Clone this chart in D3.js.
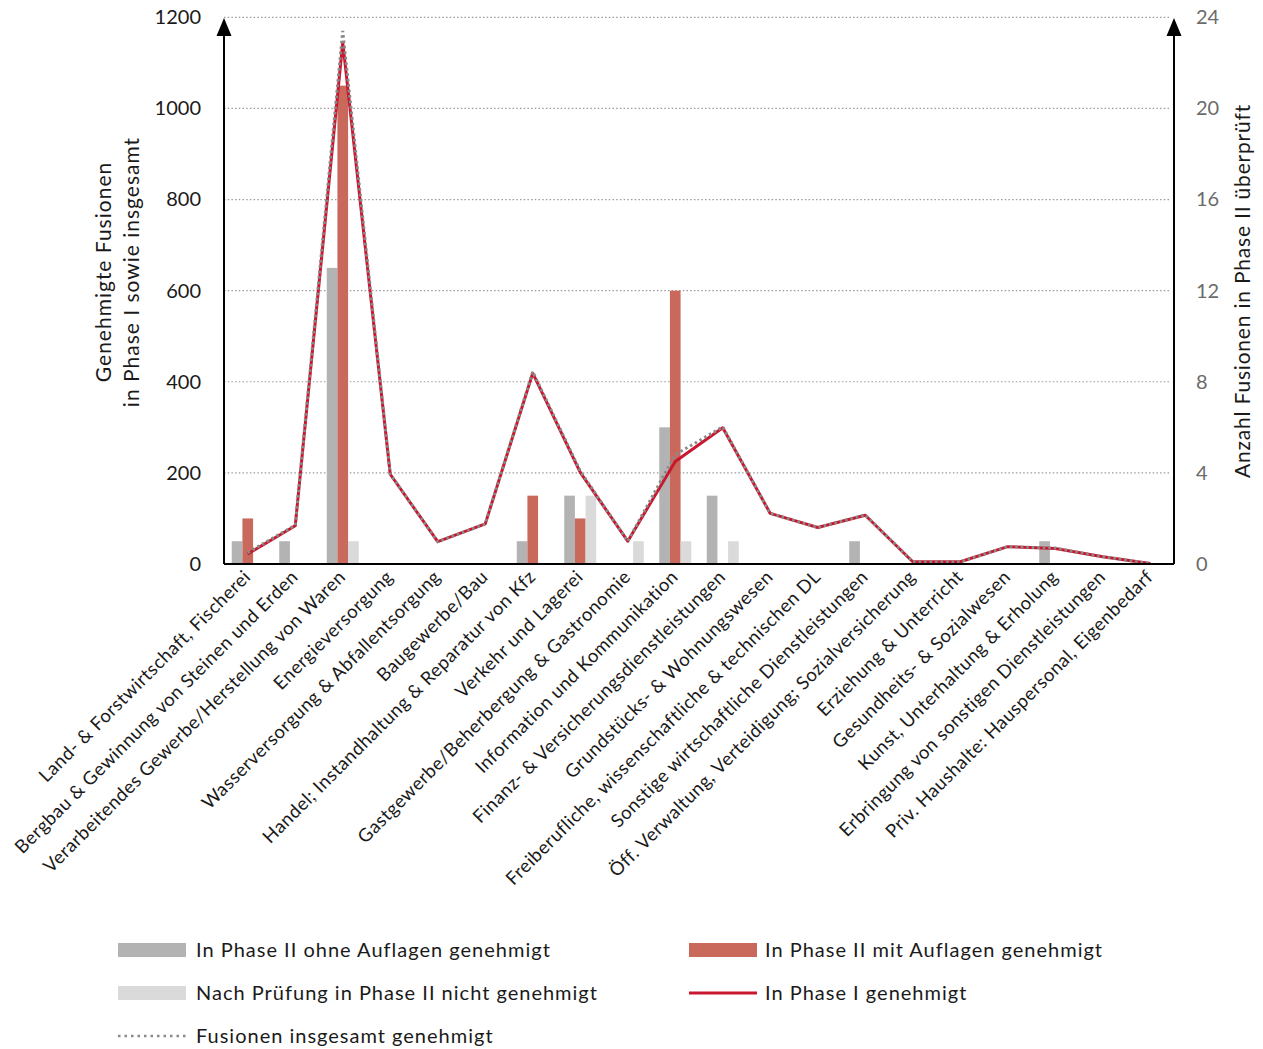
<!DOCTYPE html>
<html><head><meta charset="utf-8">
<script src="https://cdn.jsdelivr.net/npm/d3@7"></script>
<style>
html,body{margin:0;padding:0;background:#fff;}
svg{display:block;font-family:Lato,"Open Sans",sans-serif;}
</style></head>
<body>
<svg id="chart" width="1263" height="1049"></svg>
<script>
const categories = [
  "Land- & Forstwirtschaft, Fischerei",
  "Bergbau & Gewinnung von Steinen und Erden",
  "Verarbeitendes Gewerbe/Herstellung von Waren",
  "Energieversorgung",
  "Wasserversorgung & Abfallentsorgung",
  "Baugewerbe/Bau",
  "Handel; Instandhaltung & Reparatur von Kfz",
  "Verkehr und Lagerei",
  "Gastgewerbe/Beherbergung & Gastronomie",
  "Information und Kommunikation",
  "Finanz- & Versicherungsdienstleistungen",
  "Grundstücks- & Wohnungswesen",
  "Freiberufliche, wissenschaftliche & technischen DL",
  "Sonstige wirtschaftliche Dienstleistungen",
  "Öff. Verwaltung, Verteidigung; Sozialversicherung",
  "Erziehung & Unterricht",
  "Gesundheits- & Sozialwesen",
  "Kunst, Unterhaltung & Erholung",
  "Erbringung von sonstigen Dienstleistungen",
  "Priv. Haushalte: Hauspersonal, Eigenbedarf"
];
// Phase II (right axis)
const phase2Ohne   = [1,1,13,0,0,0,1,3,0,6,3,0,0,1,0,0,0,1,0,0];
const phase2Mit    = [2,0,21,0,0,0,3,2,0,12,0,0,0,0,0,0,0,0,0,0];
const phase2Nicht  = [0,0,1,0,0,0,0,3,1,1,1,0,0,0,0,0,0,0,0,0];
// Left axis lines
const phase1       = [22,84,1145,197,49,88,419,201,50,225,299,111,80,107,5,5,38,34,16,1];
const insgesamt    = [25,85,1170,197,49,88,422,204,50,240,301,111,80,108,5,5,38,35,16,1];
const leftTicks  = [0,200,400,600,800,1000,1200];
const rightTicks = [0,4,8,12,16,20,24];
const leftTitle  = ["Genehmigte Fusionen","in Phase I sowie insgesamt"];
const rightTitle = "Anzahl Fusionen in Phase II überprüft";
const legendItems = [
  {label:"In Phase II ohne Auflagen genehmigt", type:"rect", color:"#b3b3b3", col:0, row:0},
  {label:"In Phase II mit Auflagen genehmigt", type:"rect", color:"#c9695c", col:1, row:0},
  {label:"Nach Prüfung in Phase II nicht genehmigt", type:"rect", color:"#dadada", col:0, row:1},
  {label:"In Phase I genehmigt", type:"line", color:"#c8172e", col:1, row:1},
  {label:"Fusionen insgesamt genehmigt", type:"dot", color:"#8a8a8a", col:0, row:2}
];

const svg = d3.select("#chart");
const L = 224, R = 1174, T = 17.3, B = 564;

const x0 = d3.scaleBand().domain(categories).range([L, R]).padding(0);
const seriesKeys = ["ohne","mit","nicht"];
const x1 = d3.scaleBand().domain(seriesKeys).range([-16, 16]).padding(0);
const yL = d3.scaleLinear().domain([0,1200]).range([B, T]);
const yR = d3.scaleLinear().domain([0,24]).range([B, T]);
const cx = c => x0(c) + x0.bandwidth()/2;

// gridlines
svg.append("g").selectAll("line").data(leftTicks.filter(d=>d>0)).join("line")
  .attr("x1", L).attr("x2", R-4)
  .attr("y1", d=>yL(d)).attr("y2", d=>yL(d))
  .attr("stroke","#9a9a9a").attr("stroke-width",1.2).attr("stroke-dasharray","1.5,2.2");

// bars
const barData = [];
categories.forEach((c,i)=>{
  barData.push({c, k:"ohne", v:phase2Ohne[i], color:"#b3b3b3"});
  barData.push({c, k:"mit", v:phase2Mit[i], color:"#c9695c"});
  barData.push({c, k:"nicht", v:phase2Nicht[i], color:"#dadada"});
});
svg.append("g").selectAll("rect").data(barData.filter(d=>d.v>0)).join("rect")
  .attr("x", d=>cx(d.c)+x1(d.k))
  .attr("width", x1.bandwidth())
  .attr("y", d=>yR(d.v))
  .attr("height", d=>B - yR(d.v))
  .attr("fill", d=>d.color);

// lines
const line = d3.line().x(d=>cx(d[0])).y(d=>yL(d[1]));
svg.append("path").datum(categories.map((c,i)=>[c,phase1[i]]))
  .attr("d", line).attr("fill","none").attr("stroke","#c8172e").attr("stroke-width",3)
  .attr("stroke-linejoin","round");
svg.append("path").datum(categories.map((c,i)=>[c,insgesamt[i]]))
  .attr("d", line).attr("fill","none").attr("stroke","#8a8a8a").attr("stroke-width",3)
  .attr("stroke-dasharray","2.5,3");

// axes lines with arrows
function arrowAxis(x){
  svg.append("line").attr("x1",x).attr("x2",x).attr("y1",B).attr("y2",32)
    .attr("stroke","#000").attr("stroke-width",2);
  svg.append("path").attr("d",`M${x-7.5},36 L${x},18 L${x+7.5},36 Z`).attr("fill","#000");
}
arrowAxis(L); arrowAxis(R);
svg.append("line").attr("x1",L).attr("x2",R).attr("y1",B).attr("y2",B)
  .attr("stroke","#000").attr("stroke-width",2);

// left ticks
const gl = svg.append("g").attr("transform",`translate(${L},0)`)
  .call(d3.axisLeft(yL).tickValues(leftTicks).tickFormat(d3.format("d")).tickSize(0).tickPadding(23));
gl.select(".domain").remove();
gl.selectAll("text").attr("font-size",20).attr("font-family","Lato").attr("fill","#1a1a1a");
// right ticks
const gr = svg.append("g").attr("transform",`translate(${R},0)`)
  .call(d3.axisRight(yR).tickValues(rightTicks).tickFormat(d3.format("d")).tickSize(0).tickPadding(22));
gr.select(".domain").remove();
gr.selectAll("text").attr("font-size",20).attr("font-family","Lato").attr("fill","#6b6b6b");

// x labels
svg.append("g").selectAll("text").data(categories).join("text")
  .attr("transform", d=>`translate(${cx(d)+4},${B+14}) rotate(-45)`)
  .attr("text-anchor","end").attr("font-size",18.5).attr("letter-spacing",0.5).attr("fill","#1a1a1a")
  .text(d=>d);

// axis titles
svg.append("text").attr("transform",`translate(111,272) rotate(-90)`)
  .attr("text-anchor","middle").attr("font-size",21).attr("letter-spacing",1).attr("fill","#1a1a1a")
  .selectAll("tspan").data(leftTitle).join("tspan")
  .attr("x",0).attr("dy",(d,i)=>i===0?0:28).text(d=>d);
svg.append("text").attr("transform",`translate(1250,291) rotate(-90)`)
  .attr("text-anchor","middle").attr("font-size",21).attr("letter-spacing",0.8).attr("fill","#1a1a1a")
  .text(rightTitle);

// legend
const colX = [118, 689], rowY = [950, 993, 1036];
const lg = svg.append("g").selectAll("g").data(legendItems).join("g")
  .attr("transform", d=>`translate(${colX[d.col]},${rowY[d.row]})`);
lg.each(function(d){
  const g = d3.select(this);
  if(d.type==="rect") g.append("rect").attr("x",0).attr("y",-7).attr("width",68).attr("height",14).attr("fill",d.color);
  else if(d.type==="line") g.append("line").attr("x1",0).attr("x2",68).attr("y1",0).attr("y2",0).attr("stroke",d.color).attr("stroke-width",3);
  else g.append("line").attr("x1",0).attr("x2",68).attr("y1",0).attr("y2",0).attr("stroke",d.color).attr("stroke-width",2.5).attr("stroke-dasharray","2.5,4");
  g.append("text").attr("x", d.col===0?78:76).attr("y",0).attr("dy","0.35em")
    .attr("font-size",20).attr("letter-spacing",1).attr("fill","#1a1a1a").text(d.label);
});
</script>
</body></html>
